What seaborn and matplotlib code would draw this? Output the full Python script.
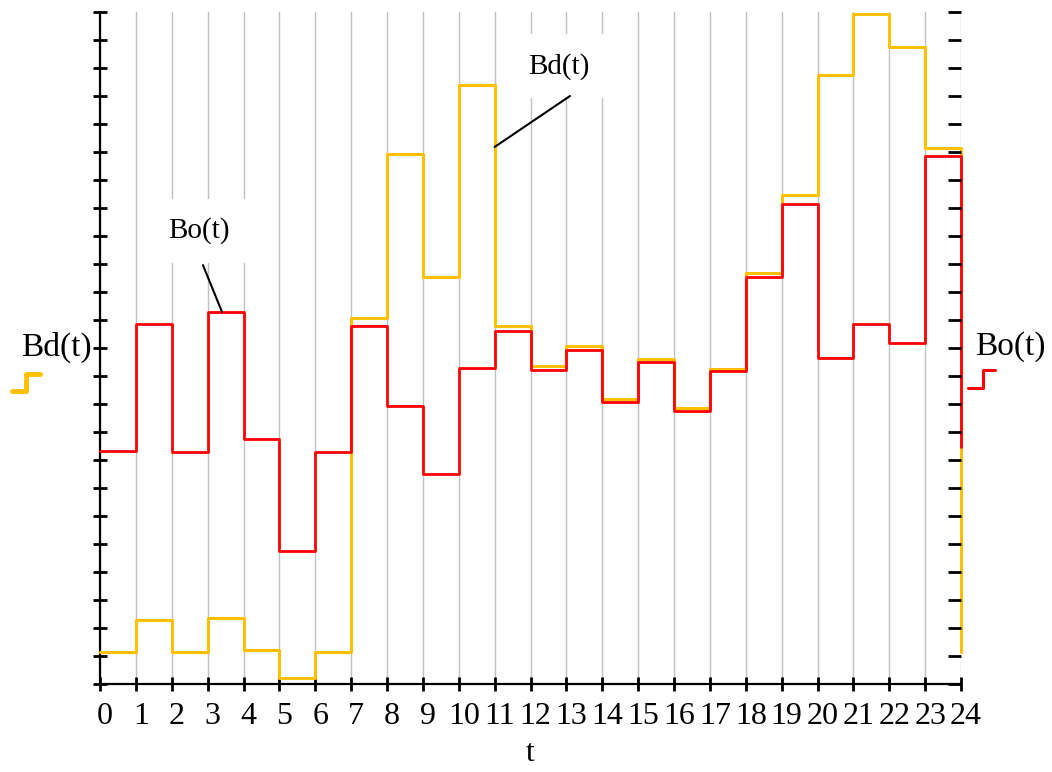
import matplotlib
matplotlib.use("Agg")
import matplotlib.pyplot as plt
from matplotlib.lines import Line2D
from matplotlib.transforms import ScaledTranslation
import seaborn as sns

hours = list(range(25))
tick_labels = [str(h) for h in hours]
# value held over each hour; the last entry is where the curve drops to at t=24
bd_values = [1.14, 2.29, 1.14, 2.36, 1.21, 0.21, 1.14, 13.07, 18.93, 14.54, 21.39, 12.79,
             11.36, 12.07, 10.18, 11.61, 9.86, 11.25, 14.68, 17.46, 21.75, 23.93, 22.75,
             19.14, 1.14]
bo_values = [8.32, 12.86, 8.29, 13.29, 8.75, 4.75, 8.29, 12.79, 9.93, 7.50, 11.29, 12.61,
             11.21, 11.93, 10.07, 11.50, 9.75, 11.18, 14.54, 17.14, 11.64, 12.86, 12.18,
             18.86, 8.45]

BD_COLOR = "#ffc000"
BO_COLOR = "#ff0000"
GRID_COLOR = "#c0c0c0"

sns.set_style("white")
plt.rcParams["font.family"] = ["Liberation Serif", "DejaVu Serif"]
plt.rcParams["text.color"] = "black"
plt.rcParams["axes.labelcolor"] = "black"
plt.rcParams["xtick.color"] = "black"
plt.rcParams["ytick.color"] = "black"

W, H = 1052, 772
fig = plt.figure(figsize=(W / 100, H / 100), dpi=100)
ax = fig.add_axes([100 / W, 88 / H, 861 / W, 672 / H])

sns.lineplot(x=hours, y=bd_values, drawstyle="steps-post", color=BD_COLOR, lw=2.2,
             estimator=None, sort=False, clip_on=False, zorder=4, ax=ax)
sns.lineplot(x=hours, y=bo_values, drawstyle="steps-post", color=BO_COLOR, lw=2.0,
             estimator=None, sort=False, clip_on=False, zorder=4, ax=ax)

ax.set_xlim(0, 24)
ax.set_ylim(0, 24)
ax.set_xticks(hours, tick_labels)
ax.set_yticks(hours)
ax.grid(axis="x", color=GRID_COLOR, lw=1.0)
ax.set_axisbelow(True)
ax.tick_params(axis="both", direction="inout", length=9.5, width=2, color="black",
               labelsize=23, pad=8)
ax.tick_params(axis="y", left=True, labelleft=False)
ax.tick_params(axis="x", bottom=True)
for side in ["top", "right"]:
    ax.spines[side].set_visible(False)
for side in ["left", "bottom"]:
    ax.spines[side].set_linewidth(1.6)
    ax.spines[side].set_color("black")
shift = ScaledTranslation(5 / 100, 0, fig.dpi_scale_trans)
for lbl in ax.get_xticklabels():
    lbl.set_transform(lbl.get_transform() + shift)
ax.set_xlabel("t", fontsize=23, labelpad=6)

# inward ticks on the right edge
ax2 = ax.twinx()
ax2.set_ylim(0, 24)
ax2.set_yticks(hours)
ax2.tick_params(axis="y", direction="in", length=9.5, width=2, color="black",
                labelright=False)
for spine in ax2.spines.values():
    spine.set_visible(False)

# curve labels with leader lines
box = dict(boxstyle="square,pad=0.65", fc="white", ec="none")
ax.text(2.76, 16.18, "Bo(t)", fontsize=21, ha="center", va="center", bbox=box, zorder=3)
ax.text(12.79, 22.07, "Bd(t)", fontsize=21, ha="center", va="center", bbox=box, zorder=3)
leader = dict(arrowstyle="-", color="black", lw=1.5, shrinkA=0, shrinkB=0)
ax.annotate("", xy=(3.4, bo_values[3]), xytext=(2.87, 14.96), arrowprops=leader, zorder=5)
ax.annotate("", xy=(11, 19.18), xytext=(13.1, 21.0), arrowprops=leader, zorder=5)

# side keys
fig.text(56 / W, 1 - 347 / H, "Bd(t)", fontsize=24, ha="center", va="center")
fig.text(1010 / W, 1 - 347 / H, "Bo(t)", fontsize=24, ha="center", va="center")
fig.add_artist(Line2D([12 / W, 26 / W, 26 / W, 40 / W],
                      [1 - 391 / H, 1 - 391 / H, 1 - 374 / H, 1 - 374 / H],
                      color=BD_COLOR, lw=3.5, transform=fig.transFigure))
fig.add_artist(Line2D([968 / W, 983 / W, 983 / W, 995 / W],
                      [1 - 388 / H, 1 - 388 / H, 1 - 370 / H, 1 - 370 / H],
                      color=BO_COLOR, lw=2.2, transform=fig.transFigure))

fig.savefig("out.png", dpi=100)
